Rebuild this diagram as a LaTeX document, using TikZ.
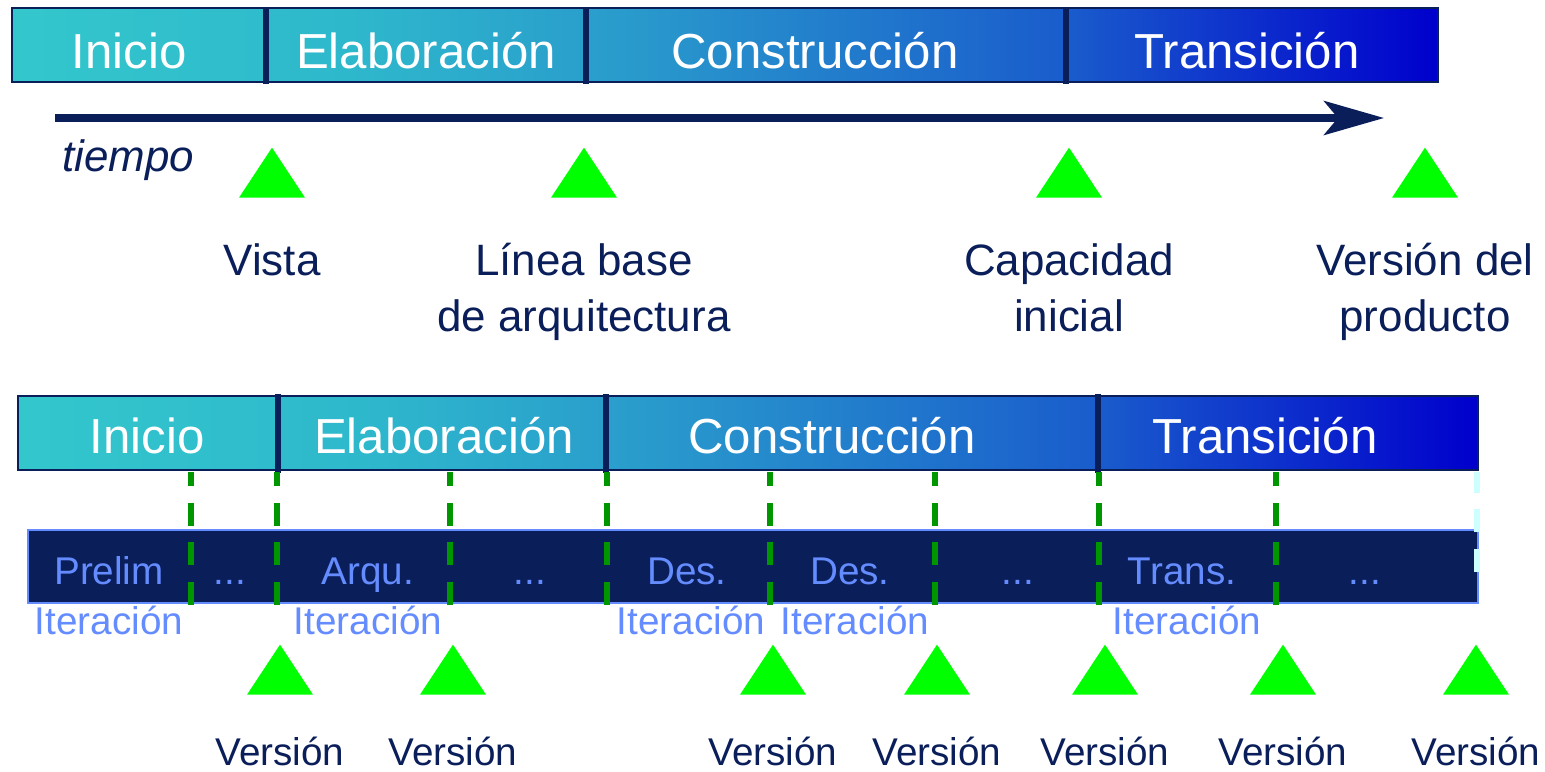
\documentclass[tikz,border=0pt]{standalone}
\usepackage{fontspec}
\setmainfont{Liberation Sans}
\usetikzlibrary{arrows.meta,shapes.geometric}

\definecolor{navy}{RGB}{10,30,90}
\definecolor{mgreen}{RGB}{0,255,0}
\definecolor{dgreen}{RGB}{0,150,0}
\definecolor{itblue}{RGB}{100,140,255}
\definecolor{iceblue}{RGB}{205,255,255}

\pgfdeclarehorizontalshading{phasegrad}{100bp}{rgb(0bp)=(0.2,0.78,0.8); rgb(25bp)=(0.2,0.78,0.8); rgb(37bp)=(0.18,0.72,0.8); rgb(47bp)=(0.16,0.6,0.8); rgb(62bp)=(0.1,0.36,0.8); rgb(75bp)=(0,0,0.8); rgb(100bp)=(0,0,0.8)}

\tikzstyle{bar}=[draw=navy,line width=1.1pt,shading=phasegrad]
\tikzstyle{sep}=[draw=navy,line width=3.2pt]
\tikzstyle{phase}=[text=white,anchor=base,inner sep=0,font=\fontsize{28}{32}\selectfont]
\tikzstyle{tarrow}=[draw=navy,line width=4pt,-{Stealth[length=1.2cm,width=0.68cm,inset=0.28cm]}]
\tikzstyle{tlabel}=[text=navy,anchor=base west,inner sep=0,font=\fontsize{25}{30}\selectfont\itshape]
\tikzstyle{mile}=[isosceles triangle,isosceles triangle stretches,shape border rotate=90,minimum width=1.32cm,minimum height=1cm,inner sep=0,fill=mgreen,anchor=south]
\tikzstyle{mtxt}=[text=navy,align=center,inner sep=0,yshift=-0.9cm,font=\fontsize{25}{32}\selectfont]
\tikzstyle{vtxt}=[text=navy,inner sep=0,yshift=-0.84cm,font=\fontsize{22}{26}\selectfont]
\tikzstyle{itbar}=[fill=navy,draw=itblue,line width=1.1pt]
\tikzstyle{it}=[text=itblue,anchor=base,inner sep=0,font=\fontsize{22}{26}\selectfont]
\tikzstyle{ed}=[draw=dgreen,line width=3.4pt,dash pattern=on 13pt off 9.6pt]
\tikzstyle{edlast}=[draw=iceblue,line width=3.4pt,dash pattern=on 13pt off 9.6pt]

\begin{document}
\begin{tikzpicture}[x=0.02cm,y=-0.02cm]
  \useasboundingbox (0,0) rectangle (1545,771);

  % fases, arriba
  \path[bar] (12,8) rectangle (1438,82);
  \draw[sep] (266,7) -- (266,84);
  \draw[sep] (586,7) -- (586,84);
  \draw[sep] (1066,7) -- (1066,84);
  \node[phase] (ini) at (129,68) {Inicio};
  \node[phase] (elab) at (426,68) {Elaboración};
  \node[phase] (cons) at (815,68) {Construcción};
  \node[phase] (tran) at (1247,68) {Transición};

  \coordinate (t0) at (55,118);
  \coordinate (t1) at (1384,118);
  \path (t0) edge [tarrow] (t1);
  \node[tlabel] (tiempo) at (62,171) {tiempo};

  \node[mile,label={[mtxt]below:Vista}] (vista) at (272,198) {};
  \node[mile,label={[mtxt]below:{Línea base\\de arquitectura}}] (lbase) at (584,198) {};
  \node[mile,label={[mtxt]below:{Capacidad\\inicial}}] (capini) at (1069,198) {};
  \node[mile,label={[mtxt]below:{Versión del\\producto}}] (vprod) at (1425,198) {};

  % fases, abajo
  \path[bar] (18,396) rectangle (1478,470);
  \draw[sep] (278,394) -- (278,473);
  \draw[sep] (606,394) -- (606,473);
  \draw[sep] (1098,394) -- (1098,473);
  \node[phase] (ini2) at (147,453) {Inicio};
  \node[phase] (elab2) at (444,453) {Elaboración};
  \node[phase] (cons2) at (832,453) {Construcción};
  \node[phase] (tran2) at (1265,453) {Transición};

  % iteraciones
  \path[itbar] (28,530) rectangle (1478,603);
  \node[it] (prelim) at (109,584) {Prelim};
  \node[it] (p1) at (230,584) {...};
  \node[it] (arqu) at (368,584) {Arqu.};
  \node[it] (p2) at (530,584) {...};
  \node[it] (des1) at (687,584) {Des.};
  \node[it] (des2) at (850,584) {Des.};
  \node[it] (p3) at (1018,584) {...};
  \node[it] (trans) at (1182,584) {Trans.};
  \node[it] (p4) at (1365,584) {...};

  \node[it] (it1) at (109,634) {Iteración};
  \node[it] (it2) at (368,634) {Iteración};
  \node[it] (it3) at (691,634) {Iteración};
  \node[it] (it4) at (855,634) {Iteración};
  \node[it] (it5) at (1187,634) {Iteración};

  \coordinate (g1a) at (191,472); \coordinate (g1b) at (191,605);
  \coordinate (g2a) at (277,472); \coordinate (g2b) at (277,605);
  \coordinate (g3a) at (450,472); \coordinate (g3b) at (450,605);
  \coordinate (g4a) at (607,472); \coordinate (g4b) at (607,605);
  \coordinate (g5a) at (770,472); \coordinate (g5b) at (770,605);
  \coordinate (g6a) at (935,472); \coordinate (g6b) at (935,605);
  \coordinate (g7a) at (1099,472); \coordinate (g7b) at (1099,605);
  \coordinate (g8a) at (1276,472); \coordinate (g8b) at (1276,605);
  \coordinate (g9a) at (1477,472); \coordinate (g9b) at (1477,572);

  \path (g1b) edge [ed] (g1a);
  \path (g2b) edge [ed] (g2a);
  \path (g3b) edge [ed] (g3a);
  \path (g4b) edge [ed] (g4a);
  \path (g5b) edge [ed] (g5a);
  \path (g6b) edge [ed] (g6a);
  \path (g7b) edge [ed] (g7a);
  \path (g8b) edge [ed] (g8a);
  \path (g9b) edge [edlast] (g9a);

  % versiones
  \node[mile,label={[vtxt]below:Versión}] (v1) at (280,695) {};
  \node[mile,label={[vtxt]below:Versión}] (v2) at (453,695) {};
  \node[mile,label={[vtxt]below:Versión}] (v3) at (773,695) {};
  \node[mile,label={[vtxt]below:Versión}] (v4) at (937,695) {};
  \node[mile,label={[vtxt]below:Versión}] (v5) at (1105,695) {};
  \node[mile,label={[vtxt]below:Versión}] (v6) at (1283,695) {};
  \node[mile,label={[vtxt]below:Versión}] (v7) at (1476,695) {};
\end{tikzpicture}
\end{document}
